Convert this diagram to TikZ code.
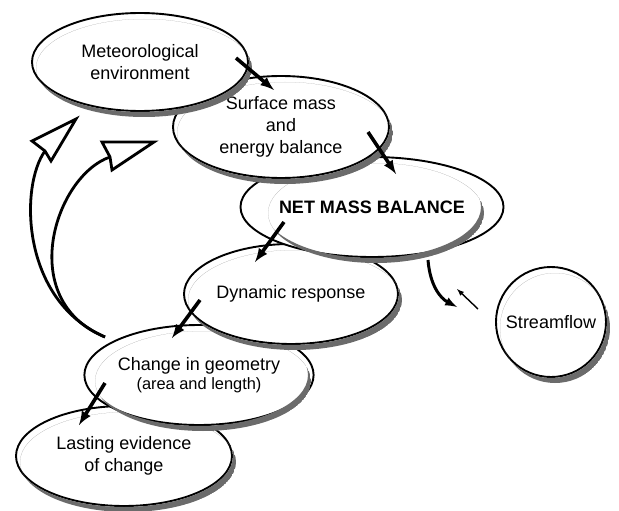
\documentclass[tikz,border=0pt]{standalone}
\usepackage{fontspec}
\setmainfont{Liberation Sans}
\usetikzlibrary{shapes.geometric}
\definecolor{shadowgray}{gray}{0.42}
\newcommand{\ellshadow}[4]{%
  \begin{scope}
    \clip (#1+4,#2+6) ellipse [x radius=#3, y radius=#4];
    \fill[shadowgray, even odd rule] (#1+4,#2+6) ellipse [x radius=#3, y radius=#4]
      (#1,#2) ellipse [x radius=#3+1, y radius=#4+1];
  \end{scope}}
\tikzset{
  bub/.style={ellipse, draw=black, line width=1.9pt, fill=white, inner sep=0pt,
    minimum width=216pt, minimum height=100pt,
    align=center, font=\fontsize{18}{22}\selectfont},
  flow/.style={line width=3.6pt, -latex},
  thinflow/.style={line width=1.4pt, -latex},
  fbshaft/.style={line width=2.8pt},
  fbhead/.style={draw=black, fill=white, line width=2.8pt, line join=miter}
}
\begin{document}
\begin{tikzpicture}[x=1pt,y=-1pt]
\useasboundingbox (0,0) rectangle (619,511);
% nodes drawn from bottom to top, each followed by its shadow crescent
\node[bub] (last) at (124,456) {Lasting evidence\\of change};
\ellshadow{124}{456}{108}{50}
\node[bub] (chg) at (199,375) {Change in geometry\\[-3pt]{\fontsize{16.4}{19}\selectfont (area and length)}};
\ellshadow{199}{375}{108}{50}
\node[bub, minimum width=214pt] (dyn) at (291,294) {Dynamic response};
\ellshadow{291}{294}{107}{50}
\node[bub] (net) at (372,207) {\bfseries NET MASS BALANCE};
\ellshadow{372}{207}{108}{50}
\node[bub, minimum height=102pt] (surf) at (281,127) {Surface mass\\and\\energy balance};
\ellshadow{281}{127}{108}{51}
\node[bub, minimum height=98pt] (met) at (140,62) {Meteorological\\environment};
\ellshadow{140}{62}{108}{49}
\node[bub, circle, minimum size=110pt] (stream) at (551,322) {Streamflow};
\ellshadow{551}{322}{55}{55}

% arrow end points
\coordinate (m1) at (236,58);  \coordinate (s1) at (274,90);
\coordinate (s2) at (368,132); \coordinate (n1) at (396,174);
\coordinate (n2) at (284,222); \coordinate (d1) at (255,262);
\coordinate (d2) at (200,300); \coordinate (c1) at (172,338);
\coordinate (c2) at (105,383); \coordinate (l1) at (79,425);
\coordinate (n3) at (428,260); \coordinate (q1) at (457,307);
\coordinate (q2) at (478,309); \coordinate (q3) at (457,289);
\coordinate (c3) at (105,337);
\coordinate (fb1) at (45,151); \coordinate (fb2) at (110,157);

\draw[flow] (m1) -- (s1);
\draw[flow] (s2) -- (n1);
\draw[flow] (n2) -- (d1);
\draw[flow] (d2) -- (c1);
\draw[flow] (c2) -- (l1);
\draw[line width=3pt, -latex] (n3) .. controls (430,285) and (440,298) .. (q1);
\draw[thinflow] (q2) -- (q3);

% feedback arrows with open heads
\draw[fbshaft] (c3) .. controls (20,300) and (20,185) .. (fb1);
\draw[fbshaft] (c3) .. controls (15,300) and (55,176) .. (fb2);
\draw[fbhead] (76,119) -- (32,141) -- (fb1) -- (51,161) -- cycle;
\draw[fbhead] (154,142) -- (102,142) -- (fb2) -- (112,170) -- cycle;
\end{tikzpicture}
\end{document}
